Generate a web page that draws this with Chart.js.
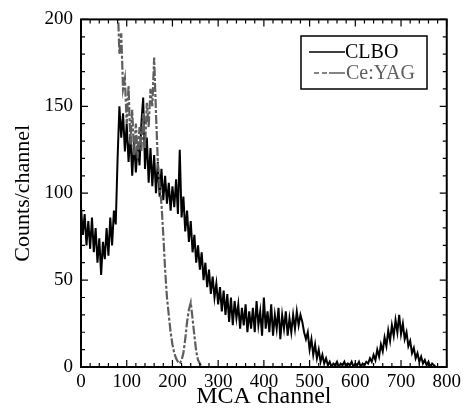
<!DOCTYPE html>
<html>
<head>
<meta charset="utf-8">
<script src="https://cdn.jsdelivr.net/npm/chart.js@4"></script>
<style>
html, body { margin: 0; padding: 0; background: #fff; }
#wrap { width: 465px; height: 411px; }
</style>
</head>
<body>
<div id="wrap"><canvas id="myChart" width="465" height="411"></canvas></div>
<script>
// MCA spectra, one value every 4 channels
var step = 4;
var clboStart = 0;
var clboCounts = [
92, 76, 88, 70, 84, 68, 86, 66, 80, 60, 74, 53, 72, 62, 80, 64, 86, 70, 90, 82,
120, 150, 132, 146, 124, 140, 118, 134, 110, 130, 112, 128, 116, 140, 155, 114, 132, 106, 126, 104,
122, 100, 118, 98, 114, 96, 110, 94, 106, 90, 104, 92, 108, 88, 125, 86, 98, 78, 90, 72,
84, 66, 76, 60, 70, 56, 66, 50, 60, 46, 56, 42, 52, 40, 48, 36, 46, 32, 44, 30,
42, 26, 40, 24, 38, 28, 36, 22, 34, 24, 36, 20, 32, 22, 34, 20, 38, 24, 32, 18,
40, 22, 32, 20, 36, 18, 30, 22, 34, 16, 30, 22, 32, 18, 28, 20, 30, 22, 32, 24,
30, 26, 20, 16, 20, 10, 16, 7, 13, 5, 10, 3, 7, 2, 5, 1, 3, 0, 2, 1,
3, 0, 2, 1, 3, 0, 2, 1, 3, 0, 2, 1, 3, 0, 2, 1, 3, 2, 5, 3,
7, 4, 10, 6, 13, 9, 17, 12, 21, 15, 24, 18, 27, 20, 30, 19, 25, 16, 20, 12,
15, 8, 11, 5, 8, 3, 6, 2, 4, 1, 3, 0, 2, 1, 0
];
var yagStart = 76;
var yagCounts = [
235, 212, 180, 192, 160, 166, 140, 162, 128, 148, 122, 140, 120, 138, 124, 146, 126, 152, 138, 160,
150, 178, 146, 118, 104, 94, 76, 56, 40, 30, 20, 13, 8, 5, 3, 2, 4, 8, 16, 26,
33, 37, 28, 18, 9, 4, 2, 0, 0
];
var seriesNames = ['CLBO', 'Ce:YAG'];
var xTicks = [0, 100, 200, 300, 400, 500, 600, 700, 800];
var yTicks = [0, 50, 100, 150, 200];

function toPoints(start, counts) {
  return counts.map(function (c, i) { return { x: start + i * step, y: c }; });
}

var serif = "'Liberation Serif', 'DejaVu Serif', serif";
var grey = '#5e5e5e';

// inward ticks on all four sides, frame and boxed legend
var framePlugin = {
  id: 'frame',
  afterDraw: function (chart) {
    var ctx = chart.ctx, a = chart.chartArea;
    var xs = chart.scales.x, ys = chart.scales.y;
    ctx.save();
    ctx.strokeStyle = '#000';
    ctx.lineWidth = 1.2;
    for (var v = 0; v <= 800; v += 20) {
      var px = xs.getPixelForValue(v);
      var len = v % 100 === 0 ? 7 : 4;
      ctx.beginPath();
      ctx.moveTo(px, a.bottom); ctx.lineTo(px, a.bottom - len);
      ctx.moveTo(px, a.top); ctx.lineTo(px, a.top + len);
      ctx.stroke();
    }
    for (var w = 0; w <= 200; w += 10) {
      var py = ys.getPixelForValue(w);
      var l2 = w % 50 === 0 ? 7 : 4;
      ctx.beginPath();
      ctx.moveTo(a.left, py); ctx.lineTo(a.left + l2, py);
      ctx.moveTo(a.right, py); ctx.lineTo(a.right - l2, py);
      ctx.stroke();
    }
    ctx.lineWidth = 2;
    ctx.strokeRect(a.left, a.top, a.right - a.left, a.bottom - a.top);

    // legend
    ctx.fillStyle = '#fff';
    ctx.fillRect(301, 36, 126, 53);
    ctx.lineWidth = 1.5;
    ctx.strokeRect(301, 36, 126, 53);
    ctx.font = '20px ' + serif;
    ctx.textBaseline = 'middle';
    ctx.lineWidth = 1.6;
    ctx.strokeStyle = '#000';
    ctx.beginPath(); ctx.moveTo(309, 52); ctx.lineTo(345, 52); ctx.stroke();
    ctx.fillStyle = '#000';
    ctx.fillText(seriesNames[0], 345, 53);
    ctx.strokeStyle = grey;
    ctx.setLineDash([5, 3, 5, 2, 20, 0]);
    ctx.beginPath(); ctx.moveTo(314, 73); ctx.lineTo(345, 73); ctx.stroke();
    ctx.setLineDash([]);
    ctx.fillStyle = grey;
    ctx.fillText(seriesNames[1], 346, 74);
    ctx.restore();
  }
};

new Chart('myChart', {
  type: 'line',
  data: {
    datasets: [{
      label: seriesNames[1],
      data: toPoints(yagStart, yagCounts),
      borderColor: grey,
      borderWidth: 2.2,
      borderDash: [9, 2, 3, 2],
      pointRadius: 0,
      tension: 0
    }, {
      label: seriesNames[0],
      data: toPoints(clboStart, clboCounts),
      borderColor: '#000',
      borderWidth: 2,
      pointRadius: 0,
      tension: 0
    }]
  },
  options: {
    responsive: false,
    animation: false,
    layout: { padding: { left: 0, right: 16, top: 19, bottom: 0 } },
    plugins: { legend: { display: false }, tooltip: { enabled: false } },
    scales: {
      x: {
        type: 'linear', min: 0, max: 800,
        afterBuildTicks: function (s) { s.ticks = xTicks.map(function (v) { return { value: v }; }); },
        afterFit: function (s) { s.height = 44; },
        grid: { display: false, drawTicks: false },
        border: { display: false },
        ticks: { color: '#000', padding: 4, maxRotation: 0, font: { family: serif, size: 19 } },
        title: { display: true, text: 'MCA channel', color: '#000', padding: { top: 0, bottom: 0 }, font: { family: serif, size: 24 } }
      },
      y: {
        min: 0, max: 200,
        afterBuildTicks: function (s) { s.ticks = yTicks.map(function (v) { return { value: v }; }); },
        afterFit: function (s) { s.width = 81; },
        grid: { display: false, drawTicks: false },
        border: { display: false },
        ticks: { color: '#000', padding: 8, font: { family: serif, size: 19 } },
        title: { display: true, text: 'Counts/channel', color: '#000', padding: { top: 10, bottom: 0 }, font: { family: serif, size: 22 } }
      }
    }
  },
  plugins: [framePlugin]
});
</script>
</body>
</html>
